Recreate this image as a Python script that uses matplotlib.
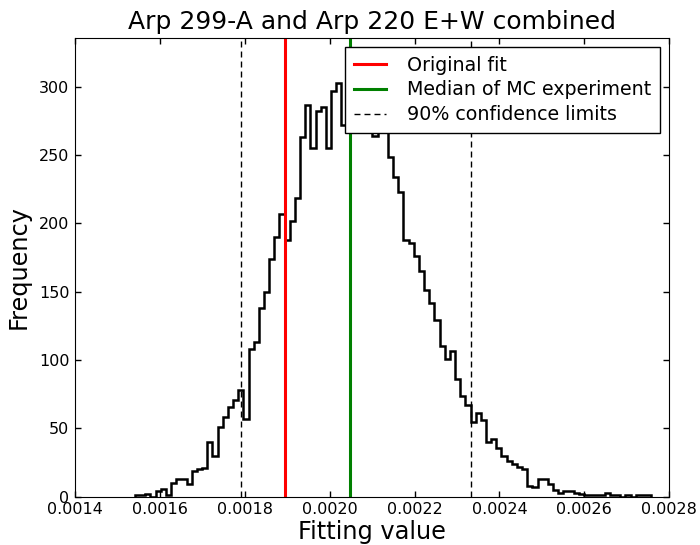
import numpy as np
import matplotlib
matplotlib.use("Agg")
import matplotlib.pyplot as plt

# histogram counts, 100 bins (bins 41-48 sit under the legend)
counts = [1, 1, 2, 0, 4, 6, 1, 10, 13, 13,
          9, 19, 20, 21, 40, 30, 51, 58, 66, 71,
          78, 57, 108, 113, 138, 150, 174, 190, 207, 188,
          202, 219, 263, 287, 255, 282, 285, 255, 297, 303,
          272, 285, 292, 278, 283, 275, 264, 272, 269, 249,
          234, 223, 188, 186, 176, 165, 151, 142, 129, 110,
          101, 107, 86, 74, 67, 55, 61, 56, 40, 42,
          36, 30, 26, 24, 22, 20, 8, 7, 13, 13,
          9, 5, 3, 4, 4, 3, 2, 1, 1, 1,
          1, 3, 1, 1, 0, 1, 0, 1, 1, 1]
bin_lo = 0.0015414
bin_hi = 0.0027576

original_fit = 0.0018957
mc_median = 0.0020474
conf_limits = [0.0017905, 0.0023326]

x_ticks = [0.0014, 0.0016, 0.0018, 0.0020, 0.0022, 0.0024, 0.0026, 0.0028]
y_ticks = [0, 50, 100, 150, 200, 250, 300]

edges = np.linspace(bin_lo, bin_hi, len(counts) + 1)

fig = plt.figure(figsize=(7, 5.45), dpi=100)
ax = fig.add_axes([0.107, 0.0886, 0.849, 0.8422])

ax.stairs(counts, edges, color="k", lw=1.8)
ax.axvline(original_fit, color="r", lw=2.2, label="Original fit")
ax.axvline(mc_median, color="g", lw=2.2, label="Median of MC experiment")
for i, c in enumerate(conf_limits):
    ax.axvline(c, color="k", lw=1, ls=(0, (4.3, 2.9)),
               label="90% confidence limits" if i == 0 else None)

ax.set_xlim(0.0014, 0.0028)
ax.set_ylim(0, 336)
ax.set_xticks(x_ticks)
ax.set_xticklabels([f"{t:.4f}" for t in x_ticks])
ax.set_yticks(y_ticks)
ax.tick_params(direction="in", top=True, right=True, length=4, width=1,
               labelsize=11.5, pad=4)

ax.set_title("Arp 299-A and Arp 220 E+W combined", fontsize=18)
ax.set_xlabel("Fitting value", fontsize=17.3, labelpad=2)
ax.set_ylabel("Frequency", fontsize=17.3, labelpad=6)

leg = ax.legend(loc="upper right", fontsize=13.7, fancybox=False,
                framealpha=1, edgecolor="k", borderaxespad=0.5,
                borderpad=0.45, labelspacing=0.3, handlelength=1.7,
                handletextpad=1.1)
leg.get_frame().set_linewidth(1)

fig.savefig("out.png", dpi=100)
